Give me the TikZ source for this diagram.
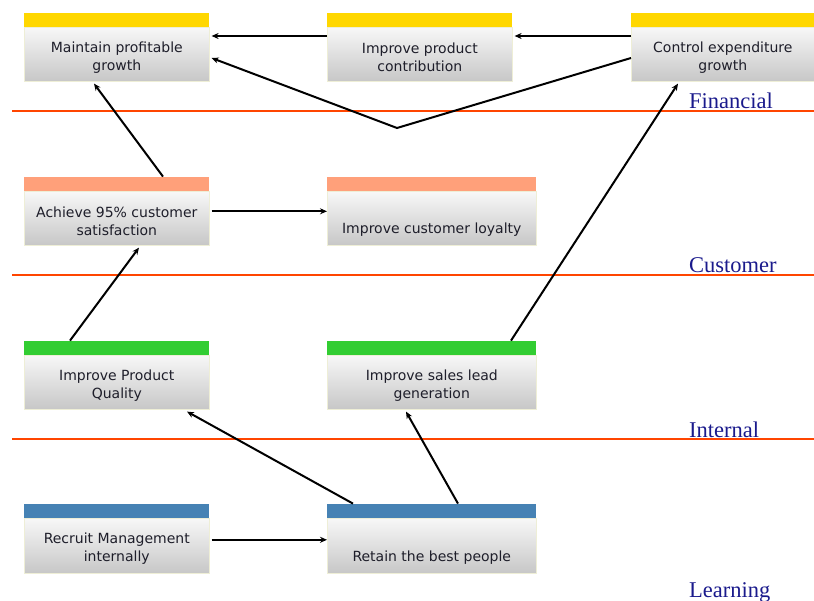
\documentclass[tikz,border=0pt]{standalone}
\usepackage{fontspec}
\setmainfont{DejaVu Sans}
\newfontfamily\serifface{Liberation Serif}
\usetikzlibrary{arrows.meta}
\definecolor{hdrfin}{HTML}{FFD700}
\definecolor{hdrcus}{HTML}{FFA07A}
\definecolor{hdrint}{HTML}{32CD32}
\definecolor{hdrlrn}{HTML}{4682B4}
\definecolor{divider}{HTML}{FF4500}
\definecolor{zonetext}{HTML}{1A1A8C}
\definecolor{boxtext}{HTML}{1E1E2A}
\definecolor{boxedge}{HTML}{EEEED6}
\tikzset{
  bodybox/.style={rectangle, anchor=north west, minimum height=54pt,
    inner sep=0pt, top color=white!97!black, bottom color=black!22,
    draw=boxedge, line width=0.6pt},
  hdrbox/.style={rectangle, anchor=south west, minimum height=14pt,
    inner sep=0pt, fill=#1, draw=none},
  boxlabel/.style={align=center, text=boxtext, inner sep=0pt,
    font=\fontsize{14}{18}\selectfont},
  zonelabel/.style={anchor=base west, text=zonetext, inner sep=0pt,
    font=\serifface\fontsize{22.5}{24}\selectfont},
  zoneline/.style={draw=divider, line width=2pt},
  link/.style={draw=black, line width=2pt,
    -{Stealth[length=7pt,width=6pt]}}
}
\begin{document}
\begin{tikzpicture}[x=1pt,y=-1pt]
\useasboundingbox (0,0) rectangle (814,601);

% zone dividers
\draw[zoneline] (12,111) -- (814,111);
\draw[zoneline] (12,275) -- (814,275);
\draw[zoneline, line width=1.5pt] (12,439) -- (814,439);

% zone names
\node[zonelabel] (zfin) at (689,108.5) {Financial};
\node[zonelabel] (zcus) at (689,272.5) {Customer};
\node[zonelabel] (zint) at (689,437) {Internal};
\node[zonelabel] (zlrn) at (689,597) {Learning};

% Financial row
\node[bodybox, minimum width=185pt] (mpg) at (24,27) {};
\node[hdrbox=hdrfin, minimum width=185pt] (mpg-h) at (mpg.north west) {};
\node[boxlabel] (mpg-t) at ([yshift=-3pt]mpg.center) {Maintain profitable\\growth};

\node[bodybox, minimum width=185pt] (ipc) at (327,27) {};
\node[hdrbox=hdrfin, minimum width=185pt] (ipc-h) at (ipc.north west) {};
\node[boxlabel] (ipc-t) at ([yshift=-3pt]ipc.center) {Improve product\\contribution};

\node[bodybox, minimum width=183pt] (ceg) at (631,27) {};
\node[hdrbox=hdrfin, minimum width=183pt] (ceg-h) at (ceg.north west) {};
\node[boxlabel] (ceg-t) at ([yshift=-3pt]ceg.center) {Control expenditure\\growth};

% Customer row
\node[bodybox, minimum width=185pt] (ach) at (24,191) {};
\node[hdrbox=hdrcus, minimum width=185pt] (ach-h) at (ach.north west) {};
\node[boxlabel] (ach-t) at ([yshift=-3pt]ach.center) {Achieve 95\% customer\\satisfaction};

\node[bodybox, minimum width=209pt] (icl) at (327,191) {};
\node[hdrbox=hdrcus, minimum width=209pt] (icl-h) at (icl.north west) {};
\node[boxlabel] (icl-t) at ([yshift=-11pt]icl.center) {Improve customer loyalty};

% Internal row
\node[bodybox, minimum width=185pt] (ipq) at (24,355) {};
\node[hdrbox=hdrint, minimum width=185pt] (ipq-h) at (ipq.north west) {};
\node[boxlabel] (ipq-t) at ([yshift=-3pt]ipq.center) {Improve Product\\Quality};

\node[bodybox, minimum width=209pt] (isl) at (327,355) {};
\node[hdrbox=hdrint, minimum width=209pt] (isl-h) at (isl.north west) {};
\node[boxlabel] (isl-t) at ([yshift=-3pt]isl.center) {Improve sales lead\\generation};

% Learning row
\node[bodybox, minimum width=185pt, minimum height=55pt] (rmi) at (24,518) {};
\node[hdrbox=hdrlrn, minimum width=185pt] (rmi-h) at (rmi.north west) {};
\node[boxlabel] (rmi-t) at ([yshift=-3pt]rmi.center) {Recruit Management\\internally};

\node[bodybox, minimum width=209pt, minimum height=55pt] (rbp) at (327,518) {};
\node[hdrbox=hdrlrn, minimum width=209pt] (rbp-h) at (rbp.north west) {};
\node[boxlabel] (rbp-t) at ([yshift=-11.5pt]rbp.center) {Retain the best people};

% cause-and-effect links
\coordinate (vtx) at (397,128);
\draw[link] ([yshift=-9pt]ipc.north west) -- ([yshift=-9pt,xshift=2pt]mpg.north east);
\draw[link] ([yshift=-9pt]ceg.north west) -- ([yshift=-9pt,xshift=2pt]ipc.north east);
\draw[link] ([yshift=-31pt]ceg.north west) -- (vtx) -- ([yshift=-31pt,xshift=2pt]mpg.north east);
\draw[link] ([xshift=139pt]ach-h.north west) -- ([xshift=70pt,yshift=-2pt]mpg.south west);
\draw[link] ([xshift=46pt]ipq-h.north west) -- ([xshift=115pt,yshift=-2pt]ach.south west);
\draw[link] ([yshift=7pt,xshift=2pt]ach.east) -- ([yshift=7pt]icl.west);
\draw[link] ([xshift=184pt]isl-h.north west) -- ([xshift=47pt,yshift=-2pt]ceg.south west);
\draw[link] ([xshift=26pt]rbp-h.north west) -- ([xshift=163pt,yshift=-2pt]ipq.south west);
\draw[link] ([xshift=131pt]rbp-h.north west) -- ([xshift=79pt,yshift=-2pt]isl.south west);
\draw[link] ([yshift=6pt,xshift=2pt]rmi.east) -- ([yshift=6pt]rbp.west);
\end{tikzpicture}
\end{document}
